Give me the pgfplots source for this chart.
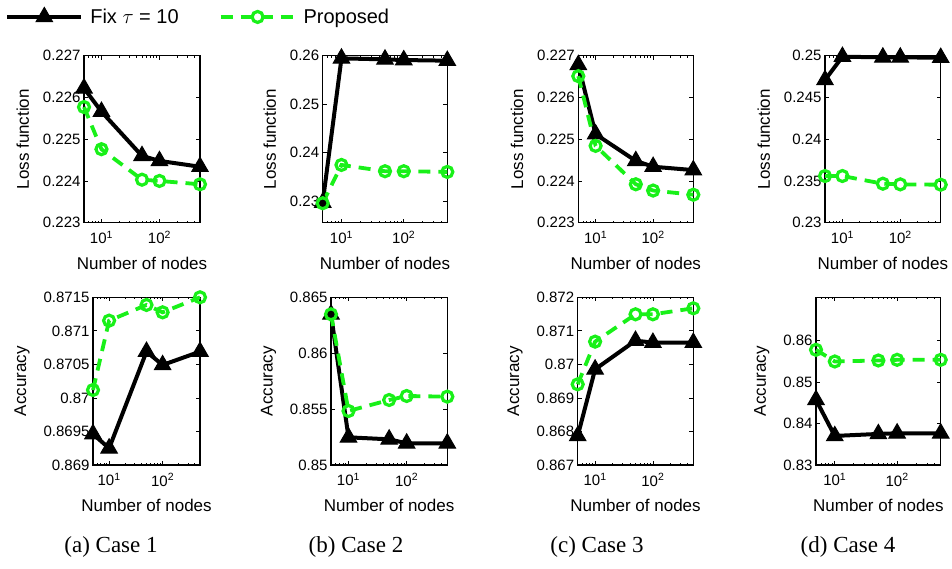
\documentclass[border=0pt]{standalone}
\usepackage{fontspec}
\setmainfont{Liberation Serif}
\newfontfamily\arial{Liberation Sans}
\usepackage{pgfplots}
\pgfplotsset{compat=1.18}
\definecolor{mygreen}{RGB}{25,240,25}
\pgfplotsset{
  legend image code/.code={%
    \draw[mark repeat=2,mark phase=2,#1] plot coordinates {(0pt,0pt) (37pt,0pt) (74pt,0pt)};},
  every axis/.append style={
    scale only axis, xmode=log, xmin=5, xmax=500,
    xtick={10,100}, xticklabels={10\textsuperscript{1},10\textsuperscript{2}},
    minor xtick={6,7,8,9,20,30,40,50,60,70,80,90,200,300,400},
    tick align=inside, major tick length=4pt, minor tick length=2pt,
    axis line style={line width=1.2pt},
    tick style={black, line width=0.7pt},
    tick label style={font=\arial\fontsize{15}{18}\selectfont},
    label style={font=\arial\fontsize{17}{20}\selectfont},
    xticklabel shift=5pt, xlabel shift=6pt, ylabel shift=7pt,
    xlabel={Number of nodes},
    clip=false,
  },
}
\begin{document}
\begin{tikzpicture}
\useasboundingbox (0,0) rectangle (952pt,569pt);
% ---------- top row ----------
\begin{axis}[at={(84pt,346.3pt)}, anchor=south west, width=116pt, height=167pt,
  ymin=0.223, ymax=0.227, ytick={0.223,0.224,0.225,0.226,0.227},
  yticklabels={0.223,0.224,0.225,0.226,0.227}, ylabel={Loss function},
  legend columns=2,
  legend style={at={(axis description cs:-0.68,1.232)}, anchor=west, draw=none, fill=none,
    inner sep=0pt, font=\arial\fontsize{20}{24}\selectfont,
    /tikz/every odd column/.append style={column sep=5pt},
    /tikz/every even column/.append style={column sep=38pt}},
  ]
\addplot[black, line width=4pt, mark=triangle*, mark size=9.5pt, mark options={solid, fill=black, line width=1pt}] coordinates {(5,0.22622)(10,0.22566)(50,0.22460)(100,0.22448)(500,0.22434)};
\addplot[mygreen, line width=3.8pt, dash pattern=on 12pt off 8pt, mark=o, mark size=5.5pt, mark options={solid, line width=3.2pt}] coordinates {(5,0.22577)(10,0.22476)(50,0.22403)(100,0.22400)(500,0.22392)};
\legend{Fix $\tau$ = 10, Proposed}
\end{axis}
\begin{axis}[at={(322.7pt,346.3pt)}, anchor=south west, width=124.6pt, height=167pt,
  ymin=0.2255, ymax=0.26, ytick={0.23,0.24,0.25,0.26},
  yticklabels={0.23,0.24,0.25,0.26}, ylabel={Loss function}]
\addplot[black, line width=4pt, mark=triangle*, mark size=9.5pt, mark options={solid, fill=black, line width=1pt}] coordinates {(5,0.22966)(10,0.25945)(50,0.25924)(100,0.2591)(500,0.25897)};
\addplot[mygreen, line width=3.8pt, dash pattern=on 12pt off 8pt, mark=o, mark size=5.5pt, mark options={solid, line width=3.2pt}] coordinates {(5,0.22952)(10,0.23743)(50,0.23613)(100,0.23613)(500,0.23599)};
\end{axis}
\begin{axis}[at={(578.3pt,346.3pt)}, anchor=south west, width=115pt, height=167pt,
  ymin=0.223, ymax=0.227, ytick={0.223,0.224,0.225,0.226,0.227},
  yticklabels={0.223,0.224,0.225,0.226,0.227}, ylabel={Loss function}]
\addplot[black, line width=4pt, mark=triangle*, mark size=9.5pt, mark options={solid, fill=black, line width=1pt}] coordinates {(5,0.22678)(10,0.22512)(50,0.22448)(100,0.22434)(500,0.22426)};
\addplot[mygreen, line width=3.8pt, dash pattern=on 12pt off 8pt, mark=o, mark size=5.5pt, mark options={solid, line width=3.2pt}] coordinates {(5,0.22651)(10,0.22484)(50,0.22392)(100,0.22377)(500,0.22367)};
\end{axis}
\begin{axis}[at={(825pt,346.3pt)}, anchor=south west, width=115.7pt, height=167pt,
  ymin=0.23, ymax=0.25, ytick={0.23,0.235,0.24,0.245,0.25},
  yticklabels={0.23,0.235,0.24,0.245,0.25}, ylabel={Loss function}]
\addplot[black, line width=4pt, mark=triangle*, mark size=9.5pt, mark options={solid, fill=black, line width=1pt}] coordinates {(5,0.24709)(10,0.24988)(50,0.2498)(100,0.2498)(500,0.24976)};
\addplot[mygreen, line width=3.8pt, dash pattern=on 12pt off 8pt, mark=o, mark size=5.5pt, mark options={solid, line width=3.2pt}] coordinates {(5,0.23559)(10,0.23559)(50,0.23467)(100,0.23459)(500,0.23455)};
\end{axis}
% ---------- bottom row ----------
\begin{axis}[at={(93pt,104pt)}, anchor=south west, width=107pt, height=167.7pt,
  ymin=0.869, ymax=0.8715, ytick={0.869,0.8695,0.87,0.8705,0.871,0.8715},
  yticklabels={0.869,0.8695,0.87,0.8705,0.871,0.8715}, ylabel={Accuracy}]
\addplot[black, line width=4pt, mark=triangle*, mark size=9.5pt, mark options={solid, fill=black, line width=1pt}] coordinates {(5,0.869462)(10,0.869249)(50,0.87069)(100,0.870491)(500,0.87069)};
\addplot[mygreen, line width=3.8pt, dash pattern=on 12pt off 8pt, mark=o, mark size=5.5pt, mark options={solid, line width=3.2pt}] coordinates {(5,0.870118)(10,0.871152)(50,0.871386)(100,0.871276)(500,0.8715)};
\end{axis}
\begin{axis}[at={(331pt,104pt)}, anchor=south west, width=116.3pt, height=167.7pt,
  ymin=0.85, ymax=0.865, ytick={0.85,0.855,0.86,0.865},
  yticklabels={0.85,0.855,0.86,0.865}, ylabel={Accuracy}]
\addplot[black, line width=4pt, mark=triangle*, mark size=9.5pt, mark options={solid, fill=black, line width=1pt}] coordinates {(5,0.863476)(10,0.852475)(50,0.852296)(100,0.851938)(500,0.851938)};
\addplot[mygreen, line width=3.8pt, dash pattern=on 12pt off 8pt, mark=o, mark size=5.5pt, mark options={solid, line width=3.2pt}] coordinates {(5,0.86348)(10,0.85483)(50,0.855814)(100,0.856172)(500,0.856113)};
\end{axis}
\begin{axis}[at={(577.7pt,104pt)}, anchor=south west, width=115.6pt, height=167.7pt,
  ymin=0.867, ymax=0.872, ytick={0.867,0.868,0.869,0.87,0.871,0.872},
  yticklabels={0.867,0.868,0.869,0.87,0.871,0.872}, ylabel={Accuracy}]
\addplot[black, line width=4pt, mark=triangle*, mark size=9.5pt, mark options={solid, fill=black, line width=1pt}] coordinates {(5,0.867865)(10,0.869853)(50,0.870708)(100,0.870648)(500,0.870648)};
\addplot[mygreen, line width=3.8pt, dash pattern=on 12pt off 8pt, mark=o, mark size=5.5pt, mark options={solid, line width=3.2pt}] coordinates {(5,0.869406)(10,0.870678)(50,0.871493)(100,0.871493)(500,0.871672)};
\end{axis}
\begin{axis}[at={(816pt,104pt)}, anchor=south west, width=124.7pt, height=167.7pt,
  ymin=0.83, ymax=0.8705, ytick={0.83,0.84,0.85,0.86},
  yticklabels={0.83,0.84,0.85,0.86}, ylabel={Accuracy}]
\addplot[black, line width=4pt, mark=triangle*, mark size=9.5pt, mark options={solid, fill=black, line width=1pt}] coordinates {(5,0.84573)(10,0.837016)(50,0.8375)(100,0.83766)(500,0.83766)};
\addplot[mygreen, line width=3.8pt, dash pattern=on 12pt off 8pt, mark=o, mark size=5.5pt, mark options={solid, line width=3.2pt}] coordinates {(5,0.85782)(10,0.855)(50,0.85524)(100,0.8554)(500,0.8554)};
\end{axis}
% ---------- captions ----------
\node[font=\fontsize{23}{26}\selectfont] at (111pt,22pt) {(a) Case 1};
\node[font=\fontsize{23}{26}\selectfont] at (356pt,22pt) {(b) Case 2};
\node[font=\fontsize{23}{26}\selectfont] at (597pt,22pt) {(c) Case 3};
\node[font=\fontsize{23}{26}\selectfont] at (848pt,22pt) {(d) Case 4};
\end{tikzpicture}
\end{document}
